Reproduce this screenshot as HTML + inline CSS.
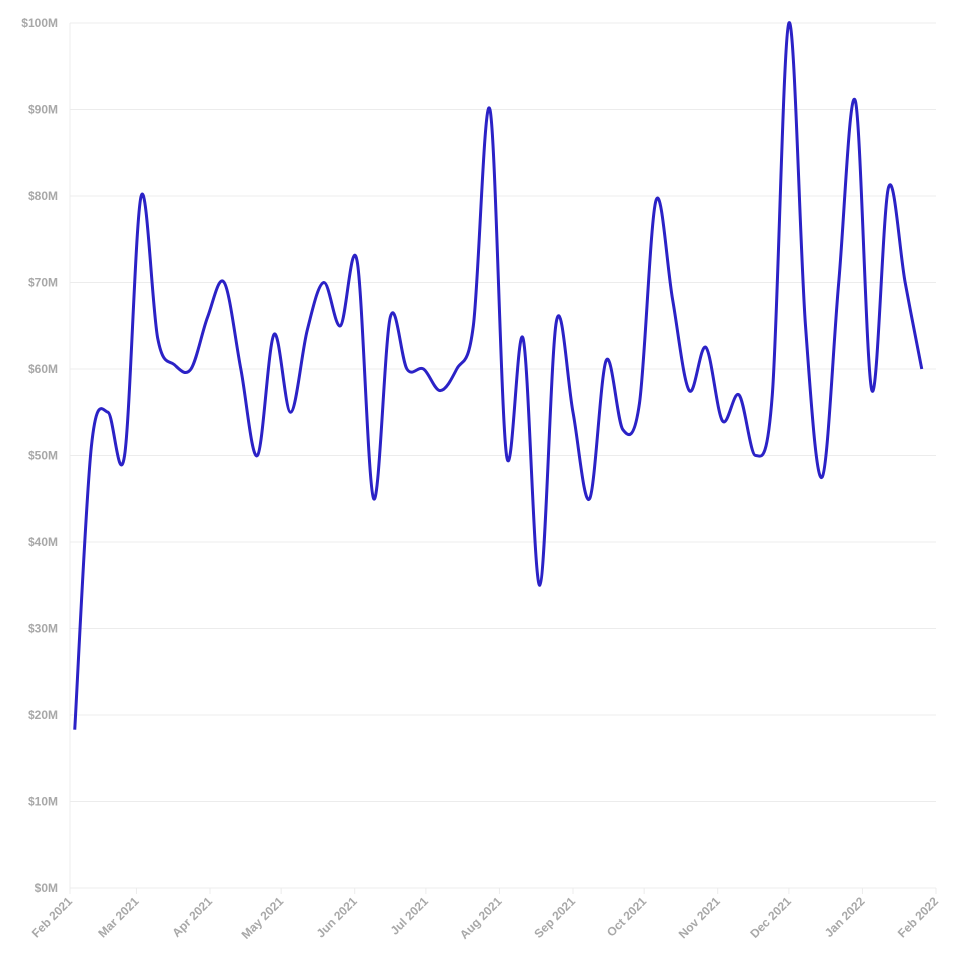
<!DOCTYPE html>
<html><head><meta charset="utf-8"><style>
html,body{margin:0;padding:0;background:#fff;width:959px;height:967px;overflow:hidden}
text{font-family:"Liberation Sans",sans-serif;font-weight:bold;font-size:12px;fill:#a8a8a8}
</style></head><body>
<svg id="chart" width="959" height="967" xmlns="http://www.w3.org/2000/svg"></svg>
<script>
const yTicks=[0,10,20,30,40,50,60,70,80,90,100];
const monthLabels=["Feb 2021","Mar 2021","Apr 2021","May 2021","Jun 2021","Jul 2021","Aug 2021","Sep 2021","Oct 2021","Nov 2021","Dec 2021","Jan 2022","Feb 2022"];
const monthDays=[0,28,59,89,120,150,181,212,242,273,303,334,365];
const pointDays=[];for(let i=0;i<52;i++)pointDays.push(2+7*i);
const values=[18.3,51,55,50,80,63.5,60.5,60,66,70,60,50,64,55,64.5,70,65,72.5,45,66,60,60,57.5,60,65,90,50,63.5,35,65.5,55,45,61,53,56,79.5,68,57.5,62.5,54,57,50,57,100,65,47.5,70,91,57.5,81,70,60];

const svg=document.getElementById('chart');const NS="http://www.w3.org/2000/svg";
const L=70,R=936,T=23,B=888;
const x=d=>L+d/365*(R-L);
const y=v=>B-v/100*(B-T);
function mk(t,a){const e=document.createElementNS(NS,t);for(const k in a)e.setAttribute(k,a[k]);svg.appendChild(e);return e;}
yTicks.forEach(v=>{
 const g=mk('line',{x1:L,x2:R,y1:y(v),y2:y(v),stroke:'#ececec','stroke-width':1});
 
 
 const t=mk('text',{x:L-12,y:y(v)+4,'text-anchor':'end'});t.textContent='$'+v+'M';
 
 
});
const ax=mk('line',{x1:L,x2:L,y1:T,y2:B,stroke:'#ececec'});


monthLabels.forEach((m,i)=>{
 const xx=x(monthDays[i]);
 const tk=mk('line',{x1:xx,x2:xx,y1:B,y2:B+6,stroke:'#ececec'});
 
 
 const t=mk('text',{x:xx+3,y:B+14,'text-anchor':'end',transform:`rotate(-45 ${xx+3} ${B+14})`});t.textContent=m;
 
 
});
const pts=pointDays.map((d,i)=>[x(d),y(values[i])]);
let d=`M${pts[0][0]},${pts[0][1]}`;
for(let i=0;i<pts.length-1;i++){
 const p0=pts[Math.max(0,i-1)],p1=pts[i],p2=pts[i+1],p3=pts[Math.min(pts.length-1,i+2)];
 const c1=[p1[0]+(p2[0]-p0[0])/6,p1[1]+(p2[1]-p0[1])/6];
 const c2=[p2[0]-(p3[0]-p1[0])/6,p2[1]-(p3[1]-p1[1])/6];
 d+=`C${c1[0]},${c1[1]} ${c2[0]},${c2[1]} ${p2[0]},${p2[1]}`;
}
const line=mk('path',{d:d,fill:'none',stroke:'#2b22c6','stroke-width':3,'stroke-linejoin':'round'});


</script>
</body></html>
